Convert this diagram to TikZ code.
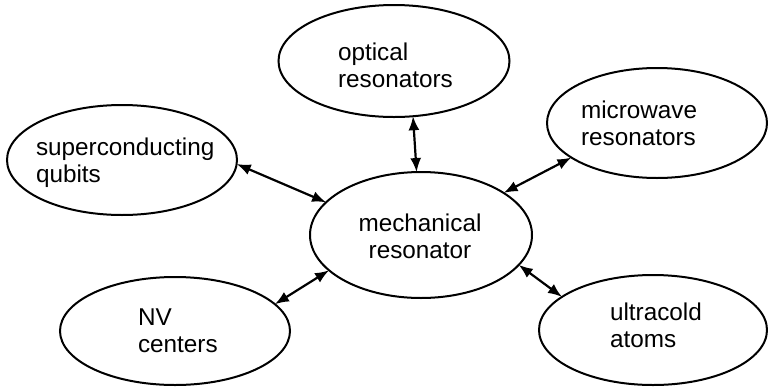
\documentclass[tikz,border=0pt]{standalone}
\usepackage{fontspec}
\setmainfont{Liberation Sans}
\usetikzlibrary{shapes.geometric,arrows.meta}
\begin{document}
\begin{tikzpicture}[x=1pt,y=-1pt,
  bubble/.style={ellipse,draw=black,line width=2pt,inner sep=0pt,outer sep=0pt},
  lbl/.style={inner sep=0pt,outer sep=0pt,font=\fontsize{24.3}{26.5}\selectfont},
  link/.style={line width=2.2pt,{Latex[length=14pt,width=11pt]}-{Latex[length=14pt,width=11pt]}}]
\useasboundingbox (0,0) rectangle (768,386);
% ellipses
\node[bubble,minimum width=231pt,minimum height=112pt] (opt) at (394,61) {};
\node[bubble,minimum width=220pt,minimum height=110pt] (mw) at (657,123) {};
\node[bubble,minimum width=230pt,minimum height=110pt] (sc) at (122,160) {};
\node[bubble,minimum width=222pt,minimum height=126pt] (mech) at (421,235) {};
\node[bubble,minimum width=230pt,minimum height=108pt] (nv) at (175,331) {};
\node[bubble,minimum width=228pt,minimum height=110pt] (uc) at (653,330) {};
% labels (anchor at baseline of last line)
\node[lbl,anchor=base west,align=left] (toptl) at (338,87) {optical\\resonators};
\node[lbl,anchor=base west,align=left] (tmw) at (581,145) {microwave\\resonators};
\node[lbl,anchor=base west,align=left] (tsc) at (36,182) {superconducting\\qubits};
\node[lbl,anchor=base,align=center] (tmech) at (420,258) {mechanical\\resonator};
\node[lbl,anchor=base west,align=left] (tnv) at (138,352) {NV\\centers};
\node[lbl,anchor=base west,align=left] (tuc) at (610,347) {ultracold\\atoms};
% connectors
\draw[link] (opt.-71) -- (mech.94);
\draw[link] (mw.-158.7) -- (mech.27);
\draw[link] (sc.-2.5) -- (mech.161);
\draw[link] (nv.15.3) -- (mech.-159.1);
\draw[link] (uc.160.3) -- (mech.-17.7);
\end{tikzpicture}
\end{document}
